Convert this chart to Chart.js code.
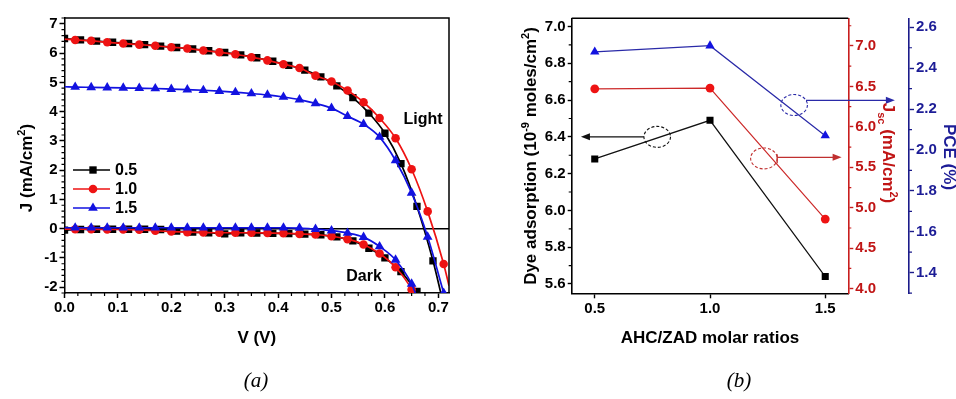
<!DOCTYPE html>
<html>
<head>
<meta charset="utf-8">
<script src="https://cdn.jsdelivr.net/npm/chart.js@4.4.1/dist/chart.umd.min.js"></script>
<style>
  html, body { margin: 0; padding: 0; background: #fff; }
  body { width: 956px; height: 399px; position: relative; overflow: hidden; }
  canvas { position: absolute; top: 0; }
  #chartA { left: 0; }
  #chartB { left: 478px; }
  .cap { position: absolute; top: 368px; width: 60px; text-align: center;
         font: italic 21px "Liberation Serif", "Times New Roman", serif; color: #000; }
</style>
</head>
<body>
<canvas id="chartA" width="478" height="399"></canvas>
<canvas id="chartB" width="478" height="399"></canvas>
<div class="cap" style="left:226px">(a)</div>
<div class="cap" style="left:709px">(b)</div>
<script>
// ---- panel (a): J-V curves ----
const vBlack = [0.00, 0.03, 0.06, 0.09, 0.12, 0.15, 0.18, 0.21, 0.24, 0.27, 0.30, 0.33,
                0.36, 0.39, 0.42, 0.45, 0.48, 0.51, 0.54, 0.57, 0.60, 0.63, 0.66, 0.69];
const vOther = [0.02, 0.05, 0.08, 0.11, 0.14, 0.17, 0.20, 0.23, 0.26, 0.29, 0.32, 0.35,
                0.38, 0.41, 0.44, 0.47, 0.50, 0.53, 0.56, 0.59, 0.62, 0.65, 0.68, 0.71];

const lightBlack = [6.50, 6.45, 6.41, 6.37, 6.33, 6.29, 6.24, 6.19, 6.14, 6.08, 6.02, 5.94,
                    5.84, 5.72, 5.58, 5.42, 5.19, 4.88, 4.48, 3.95, 3.26, 2.22, 0.76, -1.10];
const lightRed = [6.45, 6.42, 6.37, 6.33, 6.29, 6.25, 6.20, 6.16, 6.09, 6.03, 5.96, 5.86,
                  5.75, 5.62, 5.49, 5.23, 5.03, 4.72, 4.32, 3.78, 3.09, 2.03, 0.59, -1.21];
const lightBlue = [4.84, 4.83, 4.82, 4.81, 4.80, 4.79, 4.77, 4.75, 4.73, 4.70, 4.66, 4.62,
                   4.57, 4.50, 4.41, 4.28, 4.12, 3.84, 3.57, 3.13, 2.33, 1.22, -0.28, -2.20];

const darkBlack = [-0.05, -0.03, -0.02, -0.02, -0.02, -0.02, -0.03, -0.08, -0.12, -0.14, -0.18, -0.14,
                   -0.15, -0.16, -0.17, -0.19, -0.21, -0.28, -0.42, -0.67, -1.00, -1.47, -2.15];
const darkRed = [-0.02, -0.02, -0.03, -0.03, -0.04, -0.07, -0.10, -0.12, -0.13, -0.14, -0.14,
                 -0.14, -0.15, -0.16, -0.18, -0.20, -0.26, -0.36, -0.54, -0.85, -1.32, -2.08];
const darkBlue = [0.03, 0.03, 0.03, 0.03, 0.03, 0.03, 0.03, 0.03, 0.03, 0.03, 0.03,
                  0.03, 0.03, 0.03, 0.02, -0.02, -0.07, -0.15, -0.29, -0.61, -1.07, -1.89];

// line-only ends of each fitted curve: [head, tail] (null = none)
const lightBlackEnds = [null, [0.706, -2.30]];
const lightRedEnds = [[0, 6.48], [0.72, -1.95]];
const lightBlueEnds = [[0, 4.85], null];
const darkBlackEnds = [null, null];
const darkRedEnds = [[0, -0.02], [0.655, -2.30]];
const darkBlueEnds = [[0, 0.03], [0.66, -2.35]];

const seriesNames = ['0.5', '1.0', '1.5'];
const vTicks = [0, 0.1, 0.2, 0.3, 0.4, 0.5, 0.6, 0.7];
const jTicks = [-2, -1, 0, 1, 2, 3, 4, 5, 6, 7];

// ---- panel (b): molar ratio effects ----
const ratios = [0.5, 1.0, 1.5];
const dyeLoad = [6.28, 6.49, 5.64];
const jscValues = [6.47, 6.48, 4.86];
const pceValues = [2.48, 2.51, 2.07];
const ratioTicks = [0.5, 1.0, 1.5];
const dyeTicks = [5.6, 5.8, 6.0, 6.2, 6.4, 6.6, 6.8, 7.0];
const jscTicks = [4.0, 4.5, 5.0, 5.5, 6.0, 6.5, 7.0];
const pceTicks = [1.4, 1.6, 1.8, 2.0, 2.2, 2.4, 2.6];
// annotation: [ellipse x, ellipse y, arrow tip x, arrow y]
const noteDye = [0.771, 6.40, 0.44, 6.40];
const noteJsc = [1.234, 5.61, 1.571, 5.624];
const notePce = [1.365, 2.22, 1.802, 2.243];

const FONT = '"Liberation Sans", Arial, Helvetica, sans-serif';
Chart.defaults.font.family = FONT;
Chart.defaults.font.weight = 'bold';
Chart.defaults.font.size = 15;
Chart.defaults.color = '#000';

const RED = '#ee1313';
const BLUE = '#1212e0';

const pts = (xs, ys) => ys.map((y, i) => ({ x: xs[i], y }));
const withEnds = (xs, ys, ends) => {
  const out = pts(xs, ys);
  if (ends[0]) out.unshift({ x: ends[0][0], y: ends[0][1] });
  if (ends[1]) out.push({ x: ends[1][0], y: ends[1][1] });
  return out;
};
const fixedTicks = list => scale => { scale.ticks = list.map(v => ({ value: v })); };

function drawRich(ctx, parts, x, y, angle, size, color) {
  ctx.save();
  ctx.translate(x, y);
  ctx.rotate(angle);
  ctx.fillStyle = color;
  ctx.textBaseline = 'alphabetic';
  ctx.textAlign = 'left';
  const fontFor = k => `bold ${k === 'n' ? size : Math.round(size * 0.62)}px ${FONT}`;
  let total = 0;
  parts.forEach(([t, k]) => { ctx.font = fontFor(k); total += ctx.measureText(t).width; });
  let cx = -total / 2;
  const base = size * 0.36;
  parts.forEach(([t, k]) => {
    ctx.font = fontFor(k);
    const dy = k === 'sup' ? -size * 0.42 : k === 'sub' ? size * 0.28 : 0;
    ctx.fillText(t, cx, base + dy);
    cx += ctx.measureText(t).width;
  });
  ctx.restore();
}

function minorTicks(ctx, scale, step, major, len, side, color) {
  const lo = Math.min(scale.min, scale.max), hi = Math.max(scale.min, scale.max);
  ctx.save();
  ctx.strokeStyle = color;
  ctx.lineWidth = 1.2;
  ctx.beginPath();
  for (let k = Math.ceil(lo / step - 1e-9); k * step <= hi + 1e-9; k++) {
    const v = k * step;
    if (Math.abs(v / major - Math.round(v / major)) < 1e-6) continue;
    const p = scale.getPixelForValue(v);
    if (side === 'bottom') { ctx.moveTo(p, scale.top); ctx.lineTo(p, scale.top + len); }
    if (side === 'left') { ctx.moveTo(scale.right, p); ctx.lineTo(scale.right - len, p); }
    if (side === 'right') { ctx.moveTo(scale.left, p); ctx.lineTo(scale.left + len, p); }
  }
  ctx.stroke();
  ctx.restore();
}

function marker(ctx, style, x, y, r, color) {
  ctx.fillStyle = color;
  ctx.beginPath();
  if (style === 'rect') {
    const s = r * Math.SQRT1_2;
    ctx.rect(x - s, y - s, 2 * s, 2 * s);
  } else if (style === 'circle') {
    ctx.arc(x, y, r, 0, Math.PI * 2);
  } else {
    ctx.moveTo(x, y - r);
    ctx.lineTo(x + r * 0.866, y + r * 0.5);
    ctx.lineTo(x - r * 0.866, y + r * 0.5);
    ctx.closePath();
  }
  ctx.fill();
}

// ---------------- chart (a) ----------------
const curveStyles = [
  { color: '#000', style: 'rect', r: 5.2 },
  { color: RED, style: 'circle', r: 4.3 },
  { color: BLUE, style: 'triangle', r: 5.6 }
];

function curve(xs, ys, ends, s, order) {
  return [
    { data: pts(xs, ys), showLine: false, pointStyle: s.style, pointRadius: s.r,
      pointBackgroundColor: s.color, pointBorderWidth: 0, order },
    { data: withEnds(xs, ys, ends), borderColor: s.color, borderWidth: 1.7,
      pointRadius: 0, cubicInterpolationMode: 'monotone', order: order + 1 }
  ];
}

const decorA = {
  id: 'decorA',
  beforeDatasetsDraw(chart) {
    const { ctx, chartArea: a, scales: { y } } = chart;
    const y0 = y.getPixelForValue(0);
    ctx.save();
    ctx.strokeStyle = '#000';
    ctx.lineWidth = 1.5;
    ctx.beginPath();
    ctx.moveTo(a.left, y0);
    ctx.lineTo(a.right, y0);
    ctx.stroke();
    ctx.restore();
  },
  afterDraw(chart) {
    const { ctx, chartArea: a, scales: { x, y } } = chart;
    ctx.save();
    ctx.strokeStyle = '#000';
    ctx.lineWidth = 1.5;
    ctx.beginPath();
    ctx.moveTo(a.left, a.top);
    ctx.lineTo(a.right, a.top);
    ctx.lineTo(a.right, a.bottom);
    ctx.stroke();
    minorTicks(ctx, x, 0.025, 0.1, 3, 'bottom', '#000');
    minorTicks(ctx, y, 0.2, 1, 3, 'left', '#000');

    // legend
    seriesNames.forEach((name, i) => {
      const s = curveStyles[i];
      const ly = 170 + i * 19;
      ctx.strokeStyle = s.color;
      ctx.lineWidth = 1.7;
      ctx.beginPath();
      ctx.moveTo(73, ly);
      ctx.lineTo(110, ly);
      ctx.stroke();
      marker(ctx, s.style, 93, ly, s.r, s.color);
      ctx.fillStyle = '#000';
      ctx.font = `bold 16px ${FONT}`;
      ctx.textAlign = 'left';
      ctx.textBaseline = 'middle';
      ctx.fillText(name, 115, ly + 1);
    });
    ctx.textAlign = 'center';
    ctx.font = `bold 16px ${FONT}`;
    ctx.fillText('Light', 423, 120);
    ctx.fillText('Dark', 364, 277);
    ctx.restore();

    drawRich(ctx, [['J (mA/cm', 'n'], ['2', 'sup'], [')', 'n']], 26, 168, -Math.PI / 2, 17, '#000');
    drawRich(ctx, [['V (V)', 'n']], (a.left + a.right) / 2, 337, 0, 17, '#000');
  }
};

new Chart(document.getElementById('chartA'), {
  type: 'line',
  data: {
    datasets: [
      ...curve(vOther, lightBlue, lightBlueEnds, curveStyles[2], 0),
      ...curve(vOther, darkBlue, darkBlueEnds, curveStyles[2], 0),
      ...curve(vOther, lightRed, lightRedEnds, curveStyles[1], 2),
      ...curve(vOther, darkRed, darkRedEnds, curveStyles[1], 2),
      ...curve(vBlack, lightBlack, lightBlackEnds, curveStyles[0], 4),
      ...curve(vBlack.slice(0, darkBlack.length), darkBlack, darkBlackEnds, curveStyles[0], 4)
    ]
  },
  options: {
    responsive: false,
    animation: false,
    events: [],
    layout: { padding: { top: 18, right: 29, left: 0, bottom: 0 } },
    plugins: { legend: { display: false }, tooltip: { enabled: false } },
    scales: {
      x: {
        type: 'linear', min: 0, max: 0.72,
        afterBuildTicks: fixedTicks(vTicks),
        afterFit: s => { s.height = 106; },
        ticks: { callback: v => Number(v).toFixed(1), padding: 1, maxRotation: 0, autoSkip: false },
        grid: { drawOnChartArea: false, tickLength: 5, tickWidth: 1.5, tickColor: '#000' },
        border: { color: '#000', width: 1.5 }
      },
      y: {
        type: 'linear', min: -2.2, max: 7.2,
        afterBuildTicks: fixedTicks(jTicks),
        afterFit: s => { s.width = 64.5; },
        ticks: { callback: v => String(v), padding: 2, autoSkip: false },
        grid: { drawOnChartArea: false, tickLength: 5, tickWidth: 1.5, tickColor: '#000' },
        border: { color: '#000', width: 1.5 }
      }
    }
  },
  plugins: [decorA]
});

// ---------------- chart (b) ----------------
const JSC_AXIS = '#c81e1e';
const JSC_TEXT = '#c01515';
const PCE_AXIS = '#1b1b8a';
const PCE_TEXT = '#1c1c96';

function note(ctx, chart, n, yScale, color, tick) {
  const x = chart.scales.x;
  const ex = x.getPixelForValue(n[0]);
  const ey = yScale.getPixelForValue(n[1]);
  const tx = x.getPixelForValue(n[2]);
  const ay = yScale.getPixelForValue(n[3]);
  const rx = 13.3, ry = 10.5;
  ctx.save();
  ctx.strokeStyle = color;
  ctx.fillStyle = color;
  ctx.lineWidth = 1.1;
  ctx.setLineDash([3, 2]);
  ctx.beginPath();
  ctx.ellipse(ex, ey, rx, ry, 0, 0, Math.PI * 2);
  ctx.stroke();
  ctx.setLineDash([]);
  const dir = Math.sign(tx - ex);
  const dy = Math.min(1, Math.abs(ay - ey) / ry);
  const sx = ex + dir * rx * Math.sqrt(1 - dy * dy);
  ctx.lineWidth = 1.3;
  ctx.beginPath();
  ctx.moveTo(sx, ay);
  ctx.lineTo(tx - dir * 6, ay);
  ctx.stroke();
  if (tick) {
    ctx.beginPath();
    ctx.moveTo(sx, ay - 3);
    ctx.lineTo(sx, ay + 6);
    ctx.stroke();
  }
  ctx.beginPath();
  ctx.moveTo(tx, ay);
  ctx.lineTo(tx - dir * 9, ay - 3.5);
  ctx.lineTo(tx - dir * 9, ay + 3.5);
  ctx.closePath();
  ctx.fill();
  ctx.restore();
}

const decorB = {
  id: 'decorB',
  afterDraw(chart) {
    const { ctx, chartArea: a, scales: { y, y1, y2 } } = chart;
    ctx.save();
    ctx.strokeStyle = '#000';
    ctx.lineWidth = 1.4;
    ctx.beginPath();
    ctx.moveTo(a.left, a.top);
    ctx.lineTo(a.right, a.top);
    ctx.stroke();
    ctx.restore();
    minorTicks(ctx, y, 0.1, 0.2, 3, 'left', '#000');
    minorTicks(ctx, y1, 0.25, 0.5, 3, 'right', JSC_AXIS);
    minorTicks(ctx, y2, 0.1, 0.2, 3, 'right', PCE_AXIS);

    note(ctx, chart, noteDye, y, '#111', false);
    note(ctx, chart, noteJsc, y1, '#c03030', true);
    note(ctx, chart, notePce, y2, '#2a2aa8', false);

    drawRich(ctx, [['Dye adsorption (10', 'n'], ['-9', 'sup'], [' moles/cm', 'n'], ['2', 'sup'], [')', 'n']],
      52, 156, -Math.PI / 2, 17, '#000');
    drawRich(ctx, [['J', 'n'], ['sc', 'sub'], [' (mA/cm', 'n'], ['2', 'sup'], [')', 'n']],
      411, 153, Math.PI / 2, 17, JSC_TEXT);
    drawRich(ctx, [['PCE (%)', 'n']], 472, 157, Math.PI / 2, 17, PCE_TEXT);
    drawRich(ctx, [['AHC/ZAD molar ratios', 'n']], (a.left + a.right) / 2, 337, 0, 17, '#000');
  }
};

const axisB = (min, max, list, width, color, textColor, pos, weight, tickLen) => ({
  type: 'linear', position: pos, weight, min, max,
  afterBuildTicks: fixedTicks(list),
  afterFit: s => { s.width = width; },
  ticks: { callback: v => Number(v).toFixed(1), padding: 2, color: textColor, autoSkip: false },
  grid: { drawOnChartArea: false, tickLength: tickLen, tickWidth: 1.4, tickColor: color },
  border: { color, width: 1.6 }
});

new Chart(document.getElementById('chartB'), {
  type: 'line',
  data: {
    datasets: [
      { data: pts(ratios, pceValues), yAxisID: 'y2', borderColor: '#2a2aa8', borderWidth: 1.2,
        pointStyle: 'triangle', pointRadius: 5.4, pointBackgroundColor: BLUE, pointBorderWidth: 0 },
      { data: pts(ratios, jscValues), yAxisID: 'y1', borderColor: '#cc2a2a', borderWidth: 1.2,
        pointStyle: 'circle', pointRadius: 4.4, pointBackgroundColor: RED, pointBorderWidth: 0 },
      { data: pts(ratios, dyeLoad), yAxisID: 'y', borderColor: '#111', borderWidth: 1.2,
        pointStyle: 'rect', pointRadius: 5, pointBackgroundColor: '#000', pointBorderWidth: 0 }
    ]
  },
  options: {
    responsive: false,
    animation: false,
    events: [],
    layout: { padding: { top: 18.3, right: 0, left: 0, bottom: 0 } },
    plugins: { legend: { display: false }, tooltip: { enabled: false } },
    scales: {
      x: {
        type: 'linear', min: 0.4, max: 1.6,
        afterBuildTicks: fixedTicks(ratioTicks),
        afterFit: s => { s.height = 105.7; },
        ticks: { callback: v => Number(v).toFixed(1), padding: 2, maxRotation: 0, autoSkip: false },
        grid: { drawOnChartArea: false, tickLength: 5, tickWidth: 1.4, tickColor: '#000' },
        border: { color: '#000', width: 1.4 }
      },
      y: axisB(5.549, 7.045, dyeTicks, 93.7, '#000', '#000', 'left', 0, 4),
      y1: axisB(3.943, 7.342, jscTicks, 60.7, JSC_AXIS, JSC_TEXT, 'right', 0, 5),
      y2: axisB(1.299, 2.644, pceTicks, 47, PCE_AXIS, PCE_TEXT, 'right', 1, 5)
    }
  },
  plugins: [decorB]
});
</script>
</body>
</html>
